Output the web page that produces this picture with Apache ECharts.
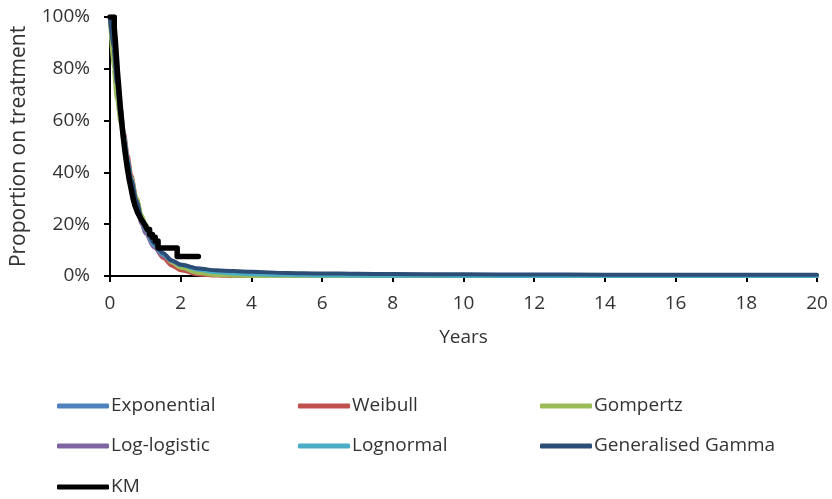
<!DOCTYPE html>
<html>
<head>
<meta charset="utf-8">
<script src="https://cdn.jsdelivr.net/npm/echarts@6/dist/echarts.min.js"></script>
<style>html,body{margin:0;padding:0;background:#fff}#c{width:832px;height:499px}</style>
</head>
<body>
<div id="c"></div>
<script>
// Model time points (years)
const times = [0, 0.1, 0.2, 0.3, 0.4, 0.5, 0.6, 0.75, 0.9, 1, 1.25, 1.5, 1.75, 2, 2.5, 3, 3.5, 4, 5, 6, 7, 8, 10, 12, 14, 16, 18, 20];
// Proportion on treatment (%) for each fitted model
const exponential = [100, 85, 72, 61, 52, 44, 37.5, 29, 22.5, 19, 13, 8.8, 6, 4, 1.8, 0.85, 0.4, 0.18, 0.04, 0, 0, 0, 0, 0, 0, 0, 0, 0];
const weibull     = [100, 88, 76, 65, 55, 46.5, 39, 30, 22.5, 18.5, 11.5, 7, 4, 2.2, 0.6, 0.15, 0.03, 0, 0, 0, 0, 0, 0, 0, 0, 0, 0, 0];
const gompertz    = [100, 80, 68, 59, 51, 44, 38, 30, 23.5, 20, 13, 8.3, 5.2, 3.2, 1.2, 0.4, 0.1, 0, 0, 0, 0, 0, 0, 0, 0, 0, 0, 0];
const loglogistic = [100, 90, 76, 63, 52, 43, 35.5, 26.5, 20, 16.5, 11, 7.8, 5.8, 4.4, 2.8, 1.9, 1.4, 1.1, 0.7, 0.5, 0.38, 0.3, 0.2, 0.15, 0.12, 0.1, 0.08, 0.07];
const lognormal   = [100, 92, 78, 65, 54, 45, 37.5, 28.5, 21.5, 18, 12, 8.3, 5.9, 4.2, 2.4, 1.5, 1, 0.7, 0.35, 0.2, 0.12, 0.08, 0.03, 0.01, 0.01, 0, 0, 0];
const gengamma    = [100, 88, 74, 62, 52, 44, 37, 29, 22, 18.5, 12.5, 8.8, 6, 4.3, 2.9, 2.2, 1.9, 1.6, 1.2, 1.0, 0.85, 0.75, 0.65, 0.58, 0.53, 0.5, 0.47, 0.45];
// Kaplan-Meier
const kmTimes = [0, 0.12, 0.15, 0.18, 0.21, 0.24, 0.27, 0.3, 0.33, 0.36, 0.39, 0.42, 0.45, 0.48, 0.51, 0.54, 0.57, 0.6, 0.63, 0.66, 0.7, 0.74, 0.78, 0.82, 0.86, 0.9, 0.95, 1.0, 1.05, 1.12, 1.2, 1.28, 1.36, 1.9, 2.5];
const kmValues = [100, 96, 91, 85, 79, 74, 69, 64, 59.5, 55.5, 52, 48.5, 45.5, 42.5, 40, 37.5, 35.5, 33.5, 31.5, 29.5, 27.5, 26, 24.5, 23.5, 22.5, 21.5, 20.5, 19.5, 18, 16, 15, 13.5, 10.8, 7.5, 7.5];

const seriesNames = ['Exponential', 'Weibull', 'Gompertz', 'Log-logistic', 'Lognormal', 'Generalised Gamma', 'KM'];
const seriesColors = ['#4F81BD', '#C0504D', '#9BBB59', '#8064A2', '#4BACC6', '#2C4D75', '#000000'];
const modelData = [exponential, weibull, gompertz, loglogistic, lognormal, gengamma];
const xTicks = [0, 2, 4, 6, 8, 10, 12, 14, 16, 18, 20];
const yTicks = [0, 20, 40, 60, 80, 100];

const FONT = '"Open Sans"';
const TXT = '#333333';

const series = modelData.map((arr, i) => ({
  name: seriesNames[i],
  type: 'line',
  data: times.map((t, j) => [t, arr[j]]),
  showSymbol: false,
  smooth: 0.3,
  smoothMonotone: 'x',
  lineStyle: { width: 4, color: seriesColors[i], cap: 'round', join: 'round' },
  itemStyle: { color: seriesColors[i] },
  z: 2 + i
}));
series.push({
  name: 'KM',
  type: 'line',
  step: 'end',
  data: kmTimes.map((t, j) => [t, kmValues[j]]),
  showSymbol: false,
  lineStyle: { width: 5.5, color: '#000', cap: 'round', join: 'round' },
  itemStyle: { color: '#000' },
  z: 10
});

const colLeft = [57, 298, 540];
const rowCenter = [406, 446, 487];
const legends = seriesNames.map((n, i) => ({
  data: [n],
  left: colLeft[i % 3],
  top: rowCenter[Math.floor(i / 3)] - 11,
  padding: 0,
  itemWidth: 52,
  itemHeight: 5,
  icon: 'roundRect',
  selectedMode: false,
  textStyle: { fontFamily: FONT, fontSize: 19, color: TXT, lineHeight: 22, padding: [0, 0, 0, -3] }
}));

const chart = echarts.init(document.getElementById('c'), null, { renderer: 'canvas' });
chart.setOption({
  animation: false,
  backgroundColor: '#fff',
  grid: { left: 110, right: 15, top: 17, bottom: 223, containLabel: false, outerBoundsMode: 'none' },
  legend: legends,
  xAxis: {
    type: 'value', min: xTicks[0], max: xTicks[xTicks.length - 1], interval: 2,
    name: 'Years', nameLocation: 'middle', nameGap: 52,
    nameTextStyle: { fontFamily: FONT, fontSize: 19, color: TXT },
    axisLine: { show: true, lineStyle: { color: '#000', width: 2 } },
    axisTick: { show: true, length: 6, lineStyle: { color: '#000', width: 2 } },
    axisLabel: { fontFamily: FONT, fontSize: 19, color: TXT, margin: 18 },
    splitLine: { show: false }
  },
  yAxis: {
    type: 'value', min: yTicks[0], max: yTicks[yTicks.length - 1], interval: 20,
    name: 'Proportion on treatment', nameLocation: 'middle', nameGap: 80,
    nameTextStyle: { fontFamily: FONT, fontSize: 21, color: TXT },
    axisLine: { show: true, lineStyle: { color: '#000', width: 2 } },
    axisTick: { show: true, length: 6, lineStyle: { color: '#000', width: 2 } },
    axisLabel: { fontFamily: FONT, fontSize: 19, color: TXT, margin: 20, formatter: '{value}%' },
    splitLine: { show: false }
  },
  series: series
});
</script>
</body>
</html>
